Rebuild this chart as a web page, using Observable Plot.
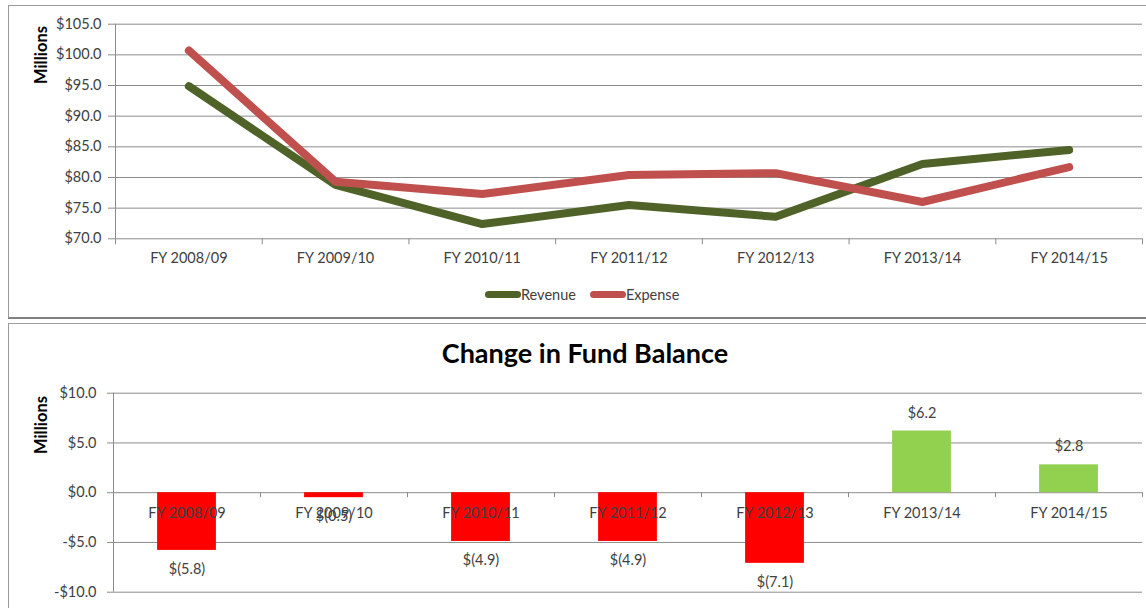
<!DOCTYPE html>
<html>
<head>
<meta charset="utf-8">
<script src="https://cdn.jsdelivr.net/npm/d3@7"></script>
<script src="https://cdn.jsdelivr.net/npm/@observablehq/plot@0.6"></script>
<style>
  html, body { margin: 0; padding: 0; background: #fff; }
  #wrap { position: relative; width: 1146px; height: 608px; overflow: hidden; font-family: Lato, "Open Sans", sans-serif; color: #404040; }
  .panel { position: absolute; box-sizing: border-box; }
  .abs { position: absolute; }
  .ylab { position: absolute; font-weight: bold; font-size: 16.5px; color: #000; transform: translate(-50%, -50%) rotate(-90deg); white-space: nowrap; }
  .legend { position: absolute; display: flex; align-items: center; font-size: 14.5px; color: #404040; }
  .sw { width: 36px; height: 7px; border-radius: 4px; }
  .title { position: absolute; left: 285px; width: 600px; text-align: center; font-weight: bold; font-size: 27px; color: #000; }
</style>
</head>
<body>
<div id="wrap">
  <div class="panel" style="left:8px;top:5px;width:1200px;height:314px;border-top:1.5px solid #9a9a9a;border-left:1.5px solid #9a9a9a;border-bottom:2px solid #808080;"></div>
  <div class="panel" style="left:8px;top:323px;width:1200px;height:400px;border-top:1.5px solid #a0a0a0;border-left:1.5px solid #9a9a9a;"></div>
  <div id="top" class="abs" style="left:0;top:0;"></div>
  <div id="bottom" class="abs" style="left:0;top:380px;"></div>
  <div class="ylab" style="left:41px;top:55px;">Millions</div>
  <div class="ylab" style="left:41px;top:425px;">Millions</div>
  <div id="legend" class="legend" style="left:485px;top:284px;height:20px;"></div>
  <div class="title" style="top:336px;">Change in Fund Balance</div>
</div>
<script>
// ---- data ----
const categories = ["FY 2008/09", "FY 2009/10", "FY 2010/11", "FY 2011/12", "FY 2012/13", "FY 2013/14", "FY 2014/15"];
const revenue = [94.9, 78.8, 72.4, 75.5, 73.6, 82.2, 84.5];
const expense = [100.7, 79.3, 77.3, 80.4, 80.7, 76.0, 81.7];
const change = [-5.8, -0.5, -4.9, -4.9, -7.1, 6.2, 2.8];
const seriesNames = ["Revenue", "Expense"];
const topTicks = [70, 75, 80, 85, 90, 95, 100, 105];
const bottomTicks = [-10, -5, 0, 5, 10];

const colors = { Revenue: "#4f6228", Expense: "#c0504d" };
const barNeg = "#ff0000", barPos = "#92d050";
const gridColor = "#8c8c8c";
const textColor = "#404040";

const idx = categories.map((_, i) => i);
const boundaries = categories.map((_, i) => i - 0.5).concat([categories.length - 0.5]);
const lineRows = [
  ...revenue.map((v, i) => ({ series: "Revenue", i, value: v })),
  ...expense.map((v, i) => ({ series: "Expense", i, value: v }))
];
const barRows = change.map((v, i) => ({ i, cat: categories[i], change: v }));
const fmtTop = d => "$" + d.toFixed(1);
const fmtBottomAxis = d => (d < 0 ? "-$" : "$") + Math.abs(d).toFixed(1);
const fmtBar = d => d < 0 ? "$(" + Math.abs(d).toFixed(1) + ")" : "$" + d.toFixed(1);

const baseStyle = { background: "transparent", overflow: "visible", fontFamily: "Lato, 'Open Sans', sans-serif", fontSize: "14.5px", color: textColor };

// ---- top line chart ----
const topPlot = Plot.plot({
  width: 1146, height: 280,
  marginLeft: 115, marginRight: 4, marginTop: 23.7, marginBottom: 41.7,
  style: baseStyle,
  x: { type: "linear", domain: [boundaries[0], boundaries[boundaries.length - 1]] },
  y: { domain: [topTicks[0], topTicks[topTicks.length - 1]] },
  marks: [
    Plot.ruleY(topTicks, { stroke: gridColor, strokeWidth: 1 }),
    Plot.ruleX([boundaries[0]], { y1: topTicks[0], y2: topTicks[topTicks.length - 1], stroke: gridColor }),
    Plot.axisY({ ticks: topTicks, tickFormat: fmtTop, tickSize: 7, tickPadding: 7, stroke: gridColor, fill: textColor, label: null }),
    Plot.axisX({ ticks: boundaries, tickFormat: () => "", tickSize: 6, stroke: gridColor, label: null }),
    Plot.axisX({ ticks: idx, tickFormat: i => categories[i], tickSize: 0, tickPadding: 14, fill: textColor, label: null }),
    ...seriesNames.map(s => Plot.line(lineRows.filter(d => d.series === s), {
      x: "i", y: "value", stroke: colors[s], strokeWidth: 8, strokeLinecap: "round", strokeLinejoin: "round"
    }))
  ]
});
document.getElementById("top").appendChild(topPlot);

// legend
const lg = document.getElementById("legend");
seriesNames.forEach((s, k) => {
  const sw = document.createElement("div");
  sw.className = "sw";
  sw.style.background = colors[s];
  if (k > 0) sw.style.marginLeft = "14px";
  const t = document.createElement("span");
  t.textContent = s;
  lg.appendChild(sw);
  lg.appendChild(t);
});

// ---- bottom bar chart ----
const bottomPlot = Plot.plot({
  width: 1146, height: 228,
  marginLeft: 113, marginRight: 4, marginTop: 12.7, marginBottom: 16.3,
  style: baseStyle,
  x: { type: "linear", domain: [boundaries[0], boundaries[boundaries.length - 1]], axis: null },
  y: { domain: [bottomTicks[0], bottomTicks[bottomTicks.length - 1]] },
  marks: [
    Plot.ruleY(bottomTicks, { stroke: gridColor, strokeWidth: 1 }),
    Plot.ruleX([boundaries[0]], { y1: bottomTicks[0], y2: bottomTicks[bottomTicks.length - 1], stroke: gridColor }),
    Plot.ruleX(boundaries, { y1: 0, y2: -0.5, stroke: gridColor }),
    Plot.axisY({ ticks: bottomTicks, tickFormat: fmtBottomAxis, tickSize: 6, tickPadding: 11, stroke: gridColor, fill: textColor, label: null }),
    Plot.rectY(barRows.filter(d => d.change < 0), { x1: d => d.i - 0.2, x2: d => d.i + 0.2, y1: 0, y2: "change", fill: barNeg }),
    Plot.rectY(barRows.filter(d => d.change >= 0), { x1: d => d.i - 0.2, x2: d => d.i + 0.2, y1: 0, y2: "change", fill: barPos }),
    Plot.text(barRows, { x: "i", y: () => 0, text: "cat", dy: 21, fill: textColor, fontSize: 14.5 }),
    Plot.text(barRows.filter(d => d.change < 0), { x: "i", y: "change", text: d => fmtBar(d.change), dy: 19, fill: textColor, fontSize: 14.5 }),
    Plot.text(barRows.filter(d => d.change >= 0), { x: "i", y: "change", text: d => fmtBar(d.change), dy: -18, fill: textColor, fontSize: 14.5 })
  ]
});
document.getElementById("bottom").appendChild(bottomPlot);
</script>
</body>
</html>
